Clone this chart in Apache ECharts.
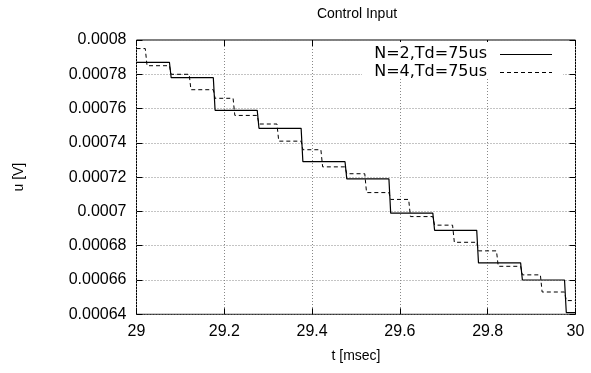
<!DOCTYPE html>
<html>
<head>
<meta charset="utf-8">
<script src="https://cdn.jsdelivr.net/npm/echarts@6/dist/echarts.min.js"></script>
<style>
html,body{margin:0;padding:0;background:#fff;}
#c{width:591px;height:373px;}
</style>
</head>
<body>
<div id="c"></div>
<script>
// ---- data ----
var titleText = 'Control Input';
var xName = 't [msec]';
var yName = 'u [V]';
var seriesNames = ['N=2,Td=75us', 'N=4,Td=75us'];
var xTicks = [29, 29.2, 29.4, 29.6, 29.8, 30];
var yTicks = [0.00064, 0.00066, 0.00068, 0.0007, 0.00072, 0.00074, 0.00076, 0.00078, 0.0008];

// N=2: held levels and the times at which the level switches
var n2Levels = [0.000787, 0.000778, 0.000759, 0.0007485, 0.000729, 0.000719, 0.000699, 0.000689, 0.00067, 0.00066, 0.000641];
var n2Switch = [29.075, 29.175, 29.275, 29.375, 29.475, 29.575, 29.675, 29.775, 29.875, 29.975];
// N=4
var n4Levels = [0.000795, 0.000785, 0.00078, 0.000771, 0.000766, 0.000756, 0.000751, 0.000741, 0.000736, 0.000726, 0.000722,
                0.000711, 0.000707, 0.000697, 0.000692, 0.000682, 0.000677, 0.000668, 0.000663, 0.000653, 0.000648];
var n4Switch = [29.02, 29.075, 29.12, 29.175, 29.22, 29.275, 29.32, 29.375, 29.42, 29.475,
                29.52, 29.575, 29.62, 29.675, 29.72, 29.775, 29.82, 29.875, 29.92, 29.975];
var tStart = 29, tEnd = 30;

// build step path (level held, short ramp to the next level)
var ramp = 0.004;
function steps(levels, sw) {
  var pts = [[tStart, levels[0]]];
  for (var i = 0; i < sw.length; i++) {
    pts.push([sw[i], levels[i]]);
    pts.push([sw[i] + ramp, levels[i + 1]]);
  }
  pts.push([tEnd, levels[levels.length - 1]]);
  return pts;
}

var chart = echarts.init(document.getElementById('c'), null, {renderer: 'canvas'});
var font = 'Liberation Sans, Arial, Helvetica, sans-serif';
var gridLine = {show: true, lineStyle: {color: '#888', type: [1, 2], width: 1}};
function fmtY(v) { return String(+v.toPrecision(6)); }
var lineStyles = [
  {stroke: '#000', lineWidth: 1.2},
  {stroke: '#000', lineWidth: 1, lineDash: [4, 3]}
];

chart.setOption({
  animation: false,
  backgroundColor: '#fff',
  textStyle: {fontFamily: font, color: '#000'},
  grid: {left: 136.5, right: 15.5, top: 40, bottom: 58.7, show: true, borderColor: '#000', borderWidth: 1, backgroundColor: 'transparent'},
  xAxis: [{
    type: 'value', min: tStart, max: tEnd, interval: 0.2, position: 'bottom',
    name: xName, nameLocation: 'middle', nameGap: 35,
    nameTextStyle: {fontSize: 14, color: '#000', fontFamily: font},
    axisLine: {show: false},
    axisTick: {show: true, inside: true, length: 6, lineStyle: {color: '#000'}},
    axisLabel: {fontSize: 16, color: '#000', margin: 9, fontFamily: font, formatter: function (v) { return String(+v.toFixed(2)); }},
    splitLine: gridLine
  }, {
    type: 'value', min: tStart, max: tEnd, interval: 0.2, position: 'top',
    axisLine: {show: false}, axisLabel: {show: false}, splitLine: {show: false},
    axisTick: {show: true, inside: true, length: 6, lineStyle: {color: '#000'}}
  }],
  yAxis: [{
    type: 'value', min: yTicks[0], max: yTicks[yTicks.length - 1], interval: 0.00002, position: 'left',
    name: yName, nameLocation: 'middle', nameGap: 110, nameRotate: 90,
    nameTextStyle: {fontSize: 14, color: '#000', fontFamily: font},
    axisLine: {show: false},
    axisTick: {show: true, inside: true, length: 6, lineStyle: {color: '#000'}},
    axisLabel: {fontSize: 16, color: '#000', margin: 10, fontFamily: font, formatter: fmtY},
    splitLine: gridLine
  }, {
    type: 'value', min: yTicks[0], max: yTicks[yTicks.length - 1], interval: 0.00002, position: 'right',
    axisLine: {show: false}, axisLabel: {show: false}, splitLine: {show: false},
    axisTick: {show: true, inside: true, length: 6, lineStyle: {color: '#000'}}
  }],
  graphic: [
    {type: 'text', x: 357, y: 14, style: {text: titleText, font: '14px "Liberation Sans"', fill: '#000', textAlign: 'center', textVerticalAlign: 'middle'}, z: 11},
    {type: 'rect', left: 362, top: 42, shape: {width: 201, height: 35}, style: {fill: '#fff'}, z: 10},
    {type: 'text', x: 487, y: 54, style: {text: seriesNames[0], font: '16px "DejaVu Sans"', fill: '#000', textAlign: 'right', textVerticalAlign: 'middle'}, z: 11},
    {type: 'text', x: 487, y: 72, style: {text: seriesNames[1], font: '16px "DejaVu Sans"', fill: '#000', textAlign: 'right', textVerticalAlign: 'middle'}, z: 11},
    {type: 'line', shape: {x1: 500, y1: 54.5, x2: 552, y2: 54.5}, style: lineStyles[0], z: 11},
    {type: 'line', shape: {x1: 500, y1: 72.5, x2: 552, y2: 72.5}, style: lineStyles[1], z: 11}
  ],
  series: [{
    name: seriesNames[0], type: 'line', showSymbol: false, symbol: 'none',
    data: steps(n2Levels, n2Switch),
    lineStyle: {color: '#000', width: 1.2, type: 'solid'}, z: 3
  }, {
    name: seriesNames[1], type: 'line', showSymbol: false, symbol: 'none',
    data: steps(n4Levels, n4Switch),
    lineStyle: {color: '#000', width: 1, type: [4, 3]}, z: 2
  }]
});
</script>
</body>
</html>
